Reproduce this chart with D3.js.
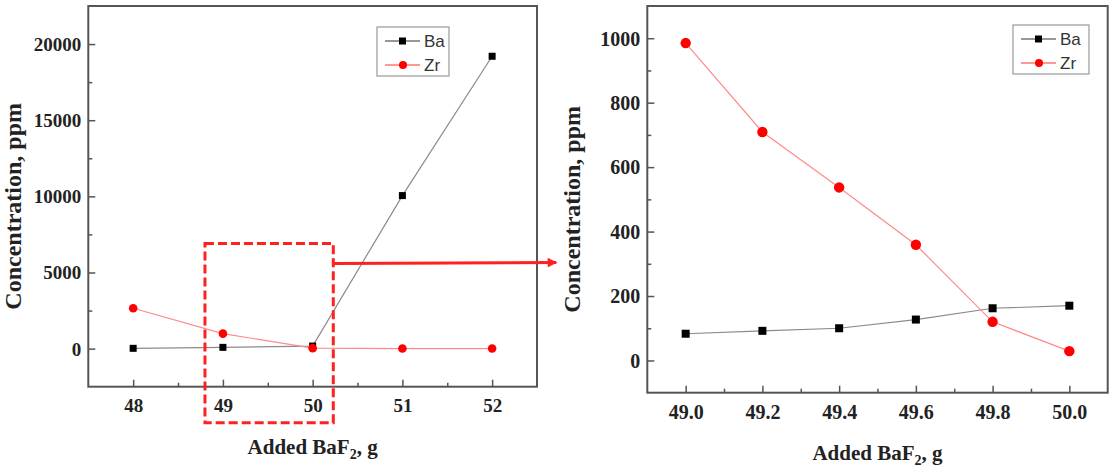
<!DOCTYPE html>
<html>
<head>
<meta charset="utf-8">
<script src="https://cdn.jsdelivr.net/npm/d3@7"></script>
<style>
  body { margin: 0; background: #fff; }
  svg { display: block; }
</style>
</head>
<body>
<div id="chart"></div>
<script>
// data
const seriesNames = ['Ba', 'Zr'];

const leftX = [48, 49, 50, 51, 52];
const leftBa = [20, 83, 170, 10050, 19200];
const leftZr = [2650, 985, 30, 5, 5];

const rightX = [49.0, 49.2, 49.4, 49.6, 49.8, 50.0];
const rightBa = [83, 92, 100, 127, 162, 170];
const rightZr = [985, 709, 537, 359, 120, 29];

const leftXTicks = [48, 49, 50, 51, 52];
const leftYTicks = [0, 5000, 10000, 15000, 20000];
const rightXTicks = [49.0, 49.2, 49.4, 49.6, 49.8, 50.0];
const rightYTicks = [0, 200, 400, 600, 800, 1000];

// zoom window drawn on the left chart (data coords)
const zoomBox = {x0: 48.8, x1: 50.23, y0: -4860, y1: 6900};

const width = 1116, height = 469;
const serif = '"Liberation Serif", "Times New Roman", serif';
const sans = '"Liberation Sans", Arial, sans-serif';

const svg = d3.select("#chart")
    .append("svg")
    .attr("width", width)
    .attr("height", height);

const colors = {Ba: "#000", Zr: "#ff0000"};
const lineColors = {Ba: "#8a8a8a", Zr: "#ff8a8a"};

const styleTicks = (sel, size) => sel.selectAll("text")
    .style("font-family", serif)
    .style("font-weight", "bold")
    .style("font-size", size + "px")
    .attr("fill", "#222");

/* draws one framed panel with data, axes and legend */
const createPanel = (opt) => {
    const {box, xs, series, xDomain, yDomain, xTicks, yTicks, xMinor, yMinor, xFmt, sym, legendAt, tickFont} = opt;

    const x = d3.scaleLinear().domain(xDomain).range([box.left, box.right]);
    const y = d3.scaleLinear().domain(yDomain).range([box.bottom, box.top]);

    const g = svg.append("g");

    // minor ticks
    g.append("g")
        .attr("transform", `translate(0,${box.bottom})`)
        .call(d3.axisBottom(x).tickValues(xMinor).tickSize(-4).tickFormat(""))
        .call(a => a.select(".domain").remove())
        .selectAll("line").attr("stroke", "#555").attr("stroke-width", 1.5);
    g.append("g")
        .attr("transform", `translate(${box.left},0)`)
        .call(d3.axisLeft(y).tickValues(yMinor).tickSize(-4).tickFormat(""))
        .call(a => a.select(".domain").remove())
        .selectAll("line").attr("stroke", "#555").attr("stroke-width", 1.5);

    // major ticks
    const xAxis = g.append("g")
        .attr("transform", `translate(0,${box.bottom})`)
        .call(d3.axisBottom(x).tickValues(xTicks).tickSize(-7).tickPadding(12).tickFormat(xFmt));
    xAxis.select(".domain").remove();
    xAxis.selectAll("line").attr("stroke", "#555").attr("stroke-width", 1.5);
    styleTicks(xAxis, tickFont);

    const yAxis = g.append("g")
        .attr("transform", `translate(${box.left},0)`)
        .call(d3.axisLeft(y).tickValues(yTicks).tickSize(-7).tickPadding(7).tickFormat(d3.format("d")));
    yAxis.select(".domain").remove();
    yAxis.selectAll("line").attr("stroke", "#555").attr("stroke-width", 1.5);
    styleTicks(yAxis, tickFont);
    yAxis.selectAll("text").attr("dy", "0.34em");

    // frame
    g.append("rect")
        .attr("x", box.left).attr("y", box.top)
        .attr("width", box.right - box.left).attr("height", box.bottom - box.top)
        .attr("fill", "none").attr("stroke", "#555").attr("stroke-width", 2);

    // lines
    const line = d3.line().x(d => x(d[0])).y(d => y(d[1]));
    seriesNames.forEach(name => {
        const pts = xs.map((v, i) => [v, series[name][i]]);
        g.append("path")
            .datum(pts)
            .attr("d", line)
            .attr("fill", "none")
            .attr("stroke", lineColors[name])
            .attr("stroke-width", 1.2);
    });

    // markers
    seriesNames.forEach(name => {
        const pts = xs.map((v, i) => [v, series[name][i]]);
        if (name === 'Ba') {
            g.selectAll(null).data(pts).join("rect")
                .attr("x", d => x(d[0]) - sym.sq / 2)
                .attr("y", d => y(d[1]) - sym.sq / 2)
                .attr("width", sym.sq).attr("height", sym.sq)
                .attr("fill", colors.Ba);
        } else {
            g.selectAll(null).data(pts).join("circle")
                .attr("cx", d => x(d[0]))
                .attr("cy", d => y(d[1]))
                .attr("r", sym.r)
                .attr("fill", colors.Zr);
        }
    });

    // legend
    const lg = g.append("g")
        .attr("transform", `translate(${legendAt.x},${legendAt.y})`);
    lg.append("rect")
        .attr("width", legendAt.w).attr("height", 49)
        .attr("fill", "#fff").attr("stroke", "#999").attr("stroke-width", 1.2);
    seriesNames.forEach((name, i) => {
        const ly = 14 + i * 24;
        lg.append("line")
            .attr("x1", 8).attr("x2", 43).attr("y1", ly).attr("y2", ly)
            .attr("stroke", name === 'Ba' ? "#333" : "#ff3030").attr("stroke-width", 1.2);
        if (name === 'Ba') {
            lg.append("rect").attr("x", 22).attr("y", ly - 3.5).attr("width", 7).attr("height", 7).attr("fill", "#000");
        } else {
            lg.append("circle").attr("cx", 26).attr("cy", ly).attr("r", 4).attr("fill", "#ff0000");
        }
        lg.append("text").attr("x", 47).attr("y", ly + 6)
            .style("font-family", sans).style("font-size", "17px").attr("fill", "#333")
            .text(name);
    });

    // axis titles
    const xt = g.append("text")
        .attr("x", (box.left + box.right) / 2)
        .attr("y", box.bottom + 67)
        .attr("text-anchor", "middle")
        .style("font-family", serif).style("font-weight", "bold").style("font-size", "21px")
        .attr("fill", "#222");
    xt.append("tspan").text("Added BaF");
    xt.append("tspan").style("font-size", "14px").attr("dy", 5).text("2");
    xt.append("tspan").attr("dy", -5).text(", g");

    g.append("text")
        .attr("transform", `translate(${box.left - 67},${(box.top + box.bottom) / 2 + 10}) rotate(-90)`)
        .attr("text-anchor", "middle")
        .style("font-family", serif).style("font-weight", "bold").style("font-size", "24px")
        .attr("fill", "#222")
        .text("Concentration, ppm");

    return {x, y};
};

const L = createPanel({
    box: {left: 88.3, right: 537, top: 6, bottom: 386.7},
    xs: leftX,
    series: {Ba: leftBa, Zr: leftZr},
    xDomain: [47.5, 52.5], yDomain: [-2500, 22500],
    xTicks: leftXTicks, yTicks: leftYTicks,
    xMinor: [48.5, 49.5, 50.5, 51.5],
    yMinor: [2500, 7500, 12500, 17500],
    xFmt: d3.format("d"),
    sym: {sq: 7, r: 4.3},
    legendAt: {x: 377, y: 27, w: 72},
    tickFont: 19
});

const R = createPanel({
    box: {left: 647.3, right: 1107.7, top: 6, bottom: 392.7},
    xs: rightX,
    series: {Ba: rightBa, Zr: rightZr},
    xDomain: [48.9, 50.1], yDomain: [-100, 1100],
    xTicks: rightXTicks, yTicks: rightYTicks,
    xMinor: [49.1, 49.3, 49.5, 49.7, 49.9],
    yMinor: [100, 300, 500, 700, 900],
    xFmt: d3.format(".1f"),
    sym: {sq: 8, r: 5.2},
    legendAt: {x: 1013, y: 25, w: 76},
    tickFont: 20
});

// dashed zoom window and arrow
const bx0 = L.x(zoomBox.x0), bx1 = L.x(zoomBox.x1);
const by0 = L.y(zoomBox.y1), by1 = L.y(zoomBox.y0);
svg.append("rect")
    .attr("x", bx0).attr("y", by0)
    .attr("width", bx1 - bx0).attr("height", by1 - by0)
    .attr("fill", "none")
    .attr("stroke", "#ff2020")
    .attr("stroke-width", 3)
    .attr("stroke-dasharray", "9,4");

svg.append("defs").append("marker")
    .attr("id", "arrow")
    .attr("viewBox", "0 0 10 10")
    .attr("refX", 9).attr("refY", 5)
    .attr("markerWidth", 3.4).attr("markerHeight", 3.2)
    .attr("markerUnits", "strokeWidth")
    .attr("orient", "auto")
    .append("path").attr("d", "M0,0L10,5L0,10z").attr("fill", "#ff2020");

const arrowY = by0 + 20;
svg.append("line")
    .attr("x1", bx1).attr("y1", arrowY)
    .attr("x2", R.x.range()[0] - 91).attr("y2", arrowY - 1)
    .attr("stroke", "#ff2020")
    .attr("stroke-width", 3)
    .attr("marker-end", "url(#arrow)");
</script>
</body>
</html>
